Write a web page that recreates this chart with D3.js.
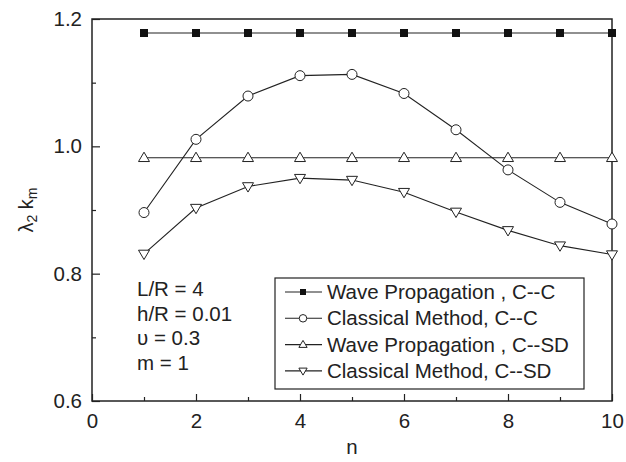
<!DOCTYPE html>
<html>
<head>
<meta charset="utf-8">
<script src="https://cdn.jsdelivr.net/npm/d3@7"></script>
<style>
  html, body { margin: 0; padding: 0; background: #fff; }
  svg text { font-family: "Liberation Sans", Arial, Helvetica, sans-serif; fill: #222; }
</style>
</head>
<body>
<svg id="chart" width="626" height="462"></svg>
<script>
// Circumferential wave number n
const modes = [1, 2, 3, 4, 5, 6, 7, 8, 9, 10];

// Frequency parameter λ2·km for each method and boundary condition
const waveCC = [1.178, 1.178, 1.178, 1.178, 1.178, 1.178, 1.178, 1.178, 1.178, 1.178];
const classicalCC = [0.896, 1.011, 1.079, 1.111, 1.113, 1.083, 1.026, 0.963, 0.912, 0.878];
const waveCSD = [0.982, 0.982, 0.982, 0.982, 0.982, 0.982, 0.982, 0.982, 0.982, 0.982];
const classicalCSD = [0.831, 0.903, 0.937, 0.950, 0.947, 0.928, 0.897, 0.868, 0.844, 0.830];

const seriesNames = [
  "Wave Propagation , C--C",
  "Classical Method, C--C",
  "Wave Propagation , C--SD",
  "Classical Method, C--SD"
];
const seriesMarkers = ["square", "circle", "triangleUp", "triangleDown"];

const xMajorTicks = [0, 2, 4, 6, 8, 10];
const xMinorTicks = [1, 3, 5, 7, 9];
const yMajorTicks = [0.6, 0.8, 1.0, 1.2];
const yMinorTicks = [0.7, 0.9, 1.1];

const notes = ["L/R = 4", "h/R = 0.01", "\u03C5 = 0.3", "m = 1"];

const series = [waveCC, classicalCC, waveCSD, classicalCSD].map((vals, i) => ({
  name: seriesNames[i],
  marker: seriesMarkers[i],
  points: modes.map((n, j) => ({ n, v: vals[j] }))
}));

const svg = d3.select("#chart");
const plot = { left: 92, right: 612, top: 19, bottom: 401 };
const ink = "#222";

const x = d3.scaleLinear().domain([0, 10]).range([plot.left, plot.right]);
const y = d3.scaleLinear().domain([0.6, 1.2]).range([plot.bottom, plot.top]);

// Axes with inward ticks
const fontSize = 20.5;
svg.append("g")
  .attr("transform", `translate(0,${plot.bottom})`)
  .call(d3.axisBottom(x).tickValues(xMajorTicks).tickSize(-7).tickPadding(12).tickFormat(d3.format("d")));
svg.append("g")
  .attr("transform", `translate(0,${plot.bottom})`)
  .call(d3.axisBottom(x).tickValues(xMinorTicks).tickSize(-4).tickFormat(""));
svg.append("g")
  .attr("transform", `translate(${plot.left},0)`)
  .call(d3.axisLeft(y).tickValues(yMajorTicks).tickSize(-8).tickPadding(10).tickFormat(d3.format(".1f")));
svg.append("g")
  .attr("transform", `translate(${plot.left},0)`)
  .call(d3.axisLeft(y).tickValues(yMinorTicks).tickSize(-4).tickFormat(""));

svg.selectAll(".domain").remove();
svg.selectAll(".tick line").attr("stroke", ink).attr("stroke-width", 1.2);
svg.selectAll(".tick text")
  .attr("font-size", fontSize)
  .attr("font-family", "'Liberation Sans', Arial, sans-serif")
  .attr("fill", ink);

// Frame
svg.append("rect")
  .attr("x", plot.left).attr("y", plot.top)
  .attr("width", plot.right - plot.left).attr("height", plot.bottom - plot.top)
  .attr("fill", "none").attr("stroke", ink).attr("stroke-width", 1.5);

// Marker drawing
function drawMarker(g, type, size) {
  if (type === "square") {
    g.append("rect").attr("x", -size / 2).attr("y", -size / 2)
      .attr("width", size).attr("height", size).attr("fill", "#111");
  } else if (type === "circle") {
    g.append("circle").attr("r", size / 2).attr("fill", "#fff")
      .attr("stroke", ink).attr("stroke-width", 1);
  } else {
    const h = size * 0.85, w = size / 2;
    const pts = type === "triangleUp"
      ? [[0, -h * 0.6], [w, h * 0.4], [-w, h * 0.4]]
      : [[0, h * 0.6], [w, -h * 0.4], [-w, -h * 0.4]];
    g.append("path").attr("d", "M" + pts.map(p => p.join(",")).join("L") + "Z")
      .attr("fill", "#fff").attr("stroke", ink).attr("stroke-width", 1);
  }
}

const line = d3.line().x(d => x(d.n)).y(d => y(d.v));
const markerSize = { square: 8, circle: 10, triangleUp: 11, triangleDown: 11 };

series.forEach(s => {
  svg.append("path").datum(s.points)
    .attr("d", line).attr("fill", "none").attr("stroke", ink).attr("stroke-width", 1.1);
  svg.append("g").selectAll("g").data(s.points).join("g")
    .attr("transform", d => `translate(${x(d.n)},${y(d.v)})`)
    .each(function () { drawMarker(d3.select(this), s.marker, markerSize[s.marker]); });
});

// Axis titles
svg.append("text")
  .attr("x", (plot.left + plot.right) / 2).attr("y", 454)
  .attr("text-anchor", "middle").attr("font-size", fontSize)
  .text("n");

const yTitle = svg.append("text")
  .attr("transform", `translate(33,${(plot.top + plot.bottom) / 2}) rotate(-90)`)
  .attr("text-anchor", "middle").attr("font-size", 20);
yTitle.append("tspan").text("\u03BB");
yTitle.append("tspan").attr("font-size", 14).attr("dy", 4).text("2");
yTitle.append("tspan").attr("dy", -4).text(" k");
yTitle.append("tspan").attr("font-size", 14).attr("dy", 4).text("m");

// Parameter notes
svg.append("g").selectAll("text").data(notes).join("text")
  .attr("x", 137).attr("y", (d, i) => 296 + i * 24.5)
  .attr("font-size", fontSize)
  .text(d => d);

// Legend
const legend = { left: 275, top: 278, width: 309, height: 111, rowStart: 292, rowGap: 26.3 };
svg.append("rect")
  .attr("x", legend.left).attr("y", legend.top)
  .attr("width", legend.width).attr("height", legend.height)
  .attr("fill", "#fff").attr("stroke", ink).attr("stroke-width", 1.2);

const rows = svg.append("g").selectAll("g").data(series).join("g")
  .attr("transform", (d, i) => `translate(${legend.left},${legend.rowStart + i * legend.rowGap})`);
rows.append("line").attr("x1", 10).attr("x2", 47).attr("y1", 0).attr("y2", 0)
  .attr("stroke", ink).attr("stroke-width", 1.1);
rows.append("g").attr("transform", "translate(28,0)")
  .each(function (d) { drawMarker(d3.select(this), d.marker, markerSize[d.marker] * 0.75); });
rows.append("text").attr("x", 52).attr("y", 0).attr("dy", "0.35em")
  .attr("font-size", fontSize).text(d => d.name);
</script>
</body>
</html>
